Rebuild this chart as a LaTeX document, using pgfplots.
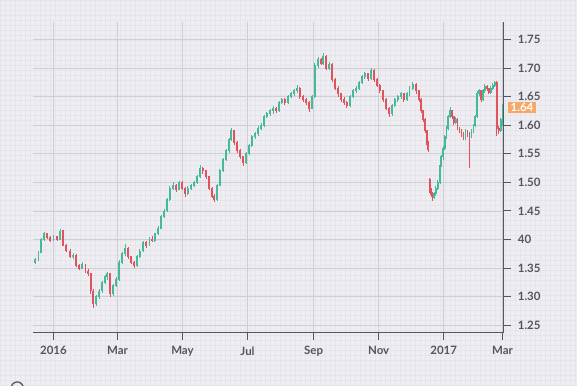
\documentclass[border=0pt]{standalone}
\usepackage{fontspec}
\setmainfont{Lato}
\usepackage{pgfplots}
\pgfplotsset{compat=1.18}
\usepackage{pgfplotstable}
\definecolor{bg}{RGB}{238,238,242}
\definecolor{fine}{RGB}{229,229,235}
\definecolor{major}{RGB}{206,206,213}
\definecolor{axisc}{RGB}{85,85,92}
\definecolor{up}{RGB}{70,185,155}
\definecolor{down}{RGB}{224,82,92}
\definecolor{tag}{RGB}{246,168,104}

\pgfplotstableread{
x o h l c
-17 1.360 1.368 1.357 1.365
-14 1.365 1.380 1.362 1.378
-11.5 1.378 1.402 1.376 1.400
-8.7 1.400 1.414 1.398 1.410
-6 1.410 1.412 1.401 1.404
-3 1.404 1.406 1.396 1.399
0 1.399 1.408 1.397 1.405
3.5 1.405 1.407 1.398 1.400
6 1.400 1.418 1.399 1.415
9 1.415 1.416 1.388 1.390
12 1.390 1.392 1.378 1.380
15.6 1.380 1.383 1.368 1.371
18.5 1.371 1.376 1.366 1.373
21 1.373 1.374 1.352 1.355
24 1.355 1.358 1.346 1.350
27 1.350 1.360 1.348 1.357
30 1.357 1.358 1.342 1.345
32.5 1.345 1.349 1.336 1.340
35 1.340 1.342 1.305 1.310
37 1.310 1.313 1.280 1.288
40 1.288 1.303 1.284 1.300
43 1.300 1.314 1.296 1.310
45.7 1.310 1.328 1.307 1.325
48.5 1.325 1.338 1.322 1.335
50.5 1.335 1.343 1.330 1.340
53 1.340 1.341 1.300 1.305
56 1.305 1.323 1.302 1.320
59 1.320 1.334 1.317 1.330
61.6 1.330 1.364 1.328 1.360
64.4 1.360 1.378 1.357 1.375
67 1.375 1.392 1.372 1.385
70 1.385 1.387 1.366 1.370
73 1.370 1.372 1.357 1.360
75.6 1.360 1.363 1.350 1.355
78.5 1.355 1.373 1.352 1.370
81 1.370 1.384 1.367 1.380
84 1.380 1.398 1.378 1.395
87 1.395 1.397 1.386 1.390
90 1.390 1.404 1.388 1.400
92.5 1.400 1.406 1.395 1.398
95 1.398 1.412 1.396 1.410
98 1.410 1.423 1.408 1.420
101 1.420 1.443 1.418 1.440
104 1.440 1.453 1.437 1.450
106.6 1.450 1.473 1.448 1.470
109 1.470 1.493 1.468 1.490
112 1.490 1.500 1.486 1.495
115 1.495 1.497 1.484 1.488
118 1.488 1.503 1.486 1.500
120.6 1.500 1.502 1.486 1.490
123.4 1.490 1.492 1.475 1.480
126 1.480 1.493 1.478 1.490
129 1.490 1.498 1.487 1.495
132 1.495 1.503 1.492 1.500
134.7 1.500 1.513 1.498 1.510
137.5 1.510 1.530 1.507 1.525
140 1.525 1.527 1.515 1.520
143 1.520 1.522 1.506 1.510
146 1.510 1.512 1.486 1.490
148.7 1.490 1.492 1.472 1.476
150.6 1.476 1.480 1.466 1.470
153.4 1.470 1.498 1.468 1.495
156 1.495 1.523 1.493 1.520
159 1.520 1.543 1.518 1.540
162 1.540 1.558 1.537 1.555
164.7 1.555 1.578 1.552 1.575
166.6 1.575 1.596 1.572 1.590
169.4 1.590 1.592 1.566 1.570
172 1.570 1.572 1.551 1.555
175 1.555 1.558 1.541 1.545
177.8 1.545 1.547 1.528 1.535
180.6 1.535 1.553 1.532 1.550
183.4 1.550 1.568 1.548 1.565
186 1.565 1.583 1.562 1.580
189 1.580 1.588 1.576 1.585
191.8 1.585 1.598 1.582 1.595
194.6 1.595 1.604 1.592 1.600
197.5 1.600 1.618 1.597 1.615
200 1.615 1.623 1.612 1.620
203 1.620 1.628 1.616 1.625
206 1.625 1.633 1.620 1.630
208.7 1.630 1.632 1.622 1.626
211.5 1.626 1.643 1.624 1.640
214 1.640 1.648 1.637 1.645
217 1.645 1.647 1.636 1.640
220 1.640 1.653 1.638 1.650
222.8 1.650 1.658 1.647 1.655
225.6 1.655 1.663 1.652 1.660
228.4 1.660 1.671 1.657 1.665
231 1.665 1.667 1.646 1.650
234 1.650 1.652 1.640 1.645
237 1.645 1.648 1.636 1.640
239.6 1.640 1.642 1.624 1.630
242.4 1.630 1.653 1.628 1.650
245 1.650 1.708 1.648 1.705
248 1.705 1.720 1.700 1.715
251 1.715 1.717 1.705 1.708
253 1.708 1.726 1.706 1.720
255.8 1.720 1.722 1.696 1.700
258.6 1.700 1.710 1.697 1.706
261.4 1.706 1.708 1.676 1.680
264 1.680 1.682 1.661 1.665
267 1.665 1.668 1.650 1.655
270 1.655 1.657 1.641 1.645
272.5 1.645 1.650 1.636 1.640
275 1.640 1.642 1.630 1.635
278 1.635 1.653 1.632 1.650
281 1.650 1.663 1.647 1.660
284 1.660 1.668 1.657 1.665
286.6 1.665 1.678 1.662 1.675
289.5 1.675 1.688 1.672 1.685
292 1.685 1.693 1.680 1.690
295 1.690 1.692 1.678 1.682
297.8 1.682 1.700 1.680 1.696
300.6 1.696 1.698 1.676 1.680
303.4 1.680 1.682 1.666 1.670
306 1.670 1.673 1.656 1.660
309 1.660 1.662 1.641 1.645
312 1.645 1.648 1.626 1.630
314.7 1.630 1.632 1.614 1.620
317.5 1.620 1.638 1.617 1.635
320 1.635 1.648 1.632 1.645
323 1.645 1.653 1.641 1.650
326 1.650 1.658 1.646 1.655
328.6 1.655 1.657 1.640 1.645
331.5 1.645 1.658 1.642 1.655
334 1.655 1.668 1.652 1.665
337 1.665 1.675 1.662 1.672
340 1.672 1.674 1.655 1.660
343 1.660 1.662 1.640 1.645
344.6 1.645 1.647 1.621 1.625
346.5 1.625 1.627 1.606 1.610
348.4 1.610 1.612 1.586 1.590
350 1.590 1.592 1.566 1.570
351.2 1.570 1.572 1.553 1.558
352.8 1.505 1.508 1.482 1.486
354.3 1.486 1.490 1.474 1.478
355.5 1.478 1.483 1.468 1.474
357 1.474 1.484 1.471 1.480
358.6 1.480 1.494 1.477 1.490
360.5 1.490 1.504 1.487 1.500
362.4 1.500 1.534 1.497 1.530
363.8 1.530 1.548 1.527 1.545
365.3 1.545 1.563 1.540 1.560
367 1.560 1.583 1.556 1.580
368.6 1.580 1.598 1.576 1.595
370.3 1.595 1.618 1.592 1.615
372 1.615 1.632 1.612 1.625
373.7 1.625 1.627 1.611 1.615
375.5 1.615 1.617 1.601 1.605
377.2 1.605 1.614 1.602 1.610
379 1.610 1.612 1.591 1.595
380.8 1.595 1.597 1.586 1.590
382.7 1.590 1.593 1.580 1.585
384.5 1.585 1.588 1.575 1.578
386.4 1.578 1.593 1.575 1.590
388.3 1.590 1.592 1.580 1.584
390.2 1.584 1.588 1.526 1.580
392 1.580 1.593 1.577 1.590
393.9 1.590 1.603 1.587 1.600
395.7 1.600 1.618 1.597 1.615
397.4 1.615 1.660 1.612 1.655
399.2 1.655 1.664 1.652 1.660
401 1.660 1.662 1.641 1.645
402.8 1.645 1.663 1.642 1.660
404.6 1.660 1.672 1.657 1.668
406.5 1.668 1.670 1.660 1.664
408.3 1.664 1.666 1.655 1.658
410.2 1.658 1.668 1.655 1.665
412 1.665 1.673 1.662 1.670
413.9 1.670 1.678 1.667 1.675
415.7 1.675 1.677 1.582 1.595
417.6 1.595 1.598 1.584 1.590
419.4 1.590 1.613 1.588 1.610
421.2 1.605 1.638 1.598 1.632
}\candles

\begin{document}
\begin{tikzpicture}[x=1pt,y=1pt]
\fill[bg] (0,0) rectangle (577,385);
\draw[fine, line width=0.5pt, step=5pt] (0,0) grid (577,385);
\useasboundingbox (0,0) rectangle (577,385);
\begin{axis}[
  at={(33pt,52.5pt)}, anchor=south west,
  scale only axis, width=471pt, height=310.5pt,
  xmin=-19, xmax=422.4, ymin=1.2374, ymax=1.7802,
  axis x line*=bottom, axis y line*=right,
  axis line style={axisc, line width=1.2pt, -},
  xtick={0,60,121,182,244,305,366,421.2},
  xticklabels={2016,Mar,May,Jul,Sep,Nov,2017,Mar},
  ytick={1.25,1.30,1.35,1.40,1.45,1.50,1.55,1.60,1.65,1.70,1.75},
  yticklabels={1.25,1.30,1.35,40,1.45,1.50,1.55,1.60,1.65,1.70,1.75},
  tick align=outside, major tick length=7.5pt,
  tick style={axisc, line width=1pt},
  grid=major, major grid style={major, line width=0.9pt},
  tick label style={font=\fontsize{11.5}{13}\selectfont\bfseries, text=axisc},
  xticklabel style={yshift=-3pt},
  yticklabel style={xshift=3pt},
  clip=false,
]
% wicks
\addplot[draw=none, mark=none, forget plot,
  restrict expr to domain={\thisrow{c}-\thisrow{o}}{0:1},
  error bars/.cd, y dir=both, y explicit, error mark=none,
  error bar style={draw=up, line width=0.7pt}]
  table[x=x, y expr=(\thisrow{h}+\thisrow{l})/2, y error expr=(\thisrow{h}-\thisrow{l})/2]{\candles};
\addplot[draw=none, mark=none, forget plot,
  restrict expr to domain={\thisrow{o}-\thisrow{c}}{0.000001:1},
  error bars/.cd, y dir=both, y explicit, error mark=none,
  error bar style={draw=down, line width=0.7pt}]
  table[x=x, y expr=(\thisrow{h}+\thisrow{l})/2, y error expr=(\thisrow{h}-\thisrow{l})/2]{\candles};
% bodies
\addplot[draw=none, mark=none, forget plot,
  restrict expr to domain={\thisrow{c}-\thisrow{o}}{0:1},
  error bars/.cd, y dir=both, y explicit, error mark=none,
  error bar style={draw=up, line width=1.8pt}]
  table[x=x, y expr=(\thisrow{o}+\thisrow{c})/2, y error expr=abs(\thisrow{c}-\thisrow{o})/2+0.0008]{\candles};
\addplot[draw=none, mark=none, forget plot,
  restrict expr to domain={\thisrow{o}-\thisrow{c}}{0.000001:1},
  error bars/.cd, y dir=both, y explicit, error mark=none,
  error bar style={draw=down, line width=1.8pt}]
  table[x=x, y expr=(\thisrow{o}+\thisrow{c})/2, y error expr=abs(\thisrow{c}-\thisrow{o})/2+0.0008]{\candles};
\end{axis}
\fill[tag] (508,271.7) rectangle (536.5,283.3);
\node[text=white, font=\fontsize{11.5}{13}\selectfont\bfseries] at (522.2,277.5) {1.64};
\draw[axisc, line width=1.3pt] (17,-3) circle (6);
\end{tikzpicture}
\end{document}
